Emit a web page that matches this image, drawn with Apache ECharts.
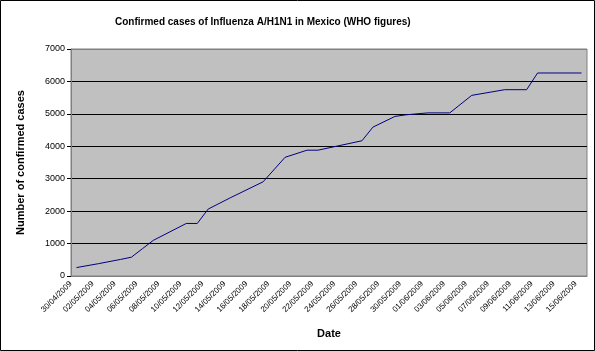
<!DOCTYPE html>
<html>
<head>
<meta charset="utf-8">
<script src="https://cdn.jsdelivr.net/npm/echarts@6/dist/echarts.min.js"></script>
<style>
  html, body { margin: 0; padding: 0; background: #fff; }
  #chart { width: 595px; height: 351px; }
</style>
</head>
<body>
<div id="chart"></div>
<script>
// one category per day, 30/04/2009 .. 15/06/2009
const dates = [
  '30/04/2009', '01/05/2009', '02/05/2009', '03/05/2009', '04/05/2009', '05/05/2009',
  '06/05/2009', '07/05/2009', '08/05/2009', '09/05/2009', '10/05/2009', '11/05/2009',
  '12/05/2009', '13/05/2009', '14/05/2009', '15/05/2009', '16/05/2009', '17/05/2009',
  '18/05/2009', '19/05/2009', '20/05/2009', '21/05/2009', '22/05/2009', '23/05/2009',
  '24/05/2009', '25/05/2009', '26/05/2009', '27/05/2009', '28/05/2009', '29/05/2009',
  '30/05/2009', '31/05/2009', '01/06/2009', '02/06/2009', '03/06/2009', '04/06/2009',
  '05/06/2009', '06/06/2009', '07/06/2009', '08/06/2009', '09/06/2009', '10/06/2009',
  '11/06/2009', '12/06/2009', '13/06/2009', '14/06/2009', '15/06/2009'
]

// null = no report that day (line joins the reported days)
const confirmedCases = [
  260, null, 380, null, 510, 580,
  840, 1100, null, null, 1620, 1620,
  2065, null, 2410, null, null, 2905,
  null, 3660, null, 3880, 3880, null,
  null, null, 4170, 4590, null, 4920,
  4970, null, 5030, null, 5030, null,
  5570, null, null, 5745, null, 5745,
  6260, null, null, null, 6260
]

const yTicks = [0, 1000, 2000, 3000, 4000, 5000, 6000, 7000]

const chart = echarts.init(document.getElementById('chart'))

const font = 'Arial, "Liberation Sans", sans-serif'

const option = {
  animation: false,
  backgroundColor: '#fff',
  textStyle: { fontFamily: font },
  title: {
    text: 'Confirmed cases of Influenza A/H1N1 in Mexico (WHO figures)',
    left: 110,
    top: 12,
    textStyle: { fontSize: 10, fontWeight: 'bold', color: '#000', fontFamily: font }
  },
  graphic: [
    {
      type: 'rect',
      shape: { x: 0.5, y: 0.5, width: 594, height: 350 },
      style: { fill: null, stroke: '#000', lineWidth: 1 },
      silent: true
    }
  ],
  grid: {
    left: 71,
    right: 8,
    top: 49,
    bottom: 75,
    show: true,
    backgroundColor: '#C0C0C0',
    borderColor: '#808080',
    borderWidth: 1
  },
  xAxis: {
    type: 'category',
    data: dates,
    boundaryGap: true,
    name: 'Date',
    nameLocation: 'middle',
    nameGap: 52,
    nameTextStyle: { fontSize: 11, fontWeight: 'bold', color: '#000' },
    axisLine: { lineStyle: { color: '#808080' } },
    axisTick: { interval: 1, length: 4, lineStyle: { color: '#000' } },
    axisLabel: {
      interval: 1,
      rotate: 45,
      fontSize: 8,
      color: '#000',
      margin: 1,
      padding: [0, 8, 0, 0]
    },
    splitLine: { show: false }
  },
  yAxis: {
    type: 'value',
    min: yTicks[0],
    max: yTicks[yTicks.length - 1],
    interval: 1000,
    name: 'Number of confirmed cases',
    nameLocation: 'middle',
    nameGap: 45,
    nameTextStyle: { fontSize: 11, fontWeight: 'bold', color: '#000' },
    axisLine: { show: true, lineStyle: { color: '#808080' } },
    axisTick: { show: true, length: 4, lineStyle: { color: '#000' } },
    axisLabel: { fontSize: 9, color: '#000', margin: 6, formatter: v => String(v) },
    splitLine: {
      show: true,
      lineStyle: {
        color: ['#808080', '#000', '#000', '#000', '#000', '#000', '#000', '#808080'],
        width: 1
      }
    }
  },
  series: [
    {
      name: 'Confirmed cases',
      type: 'line',
      data: confirmedCases,
      connectNulls: true,
      showSymbol: false,
      symbol: 'none',
      lineStyle: { color: '#000080', width: 1 }
    }
  ]
}

chart.setOption(option)
</script>
</body>
</html>
